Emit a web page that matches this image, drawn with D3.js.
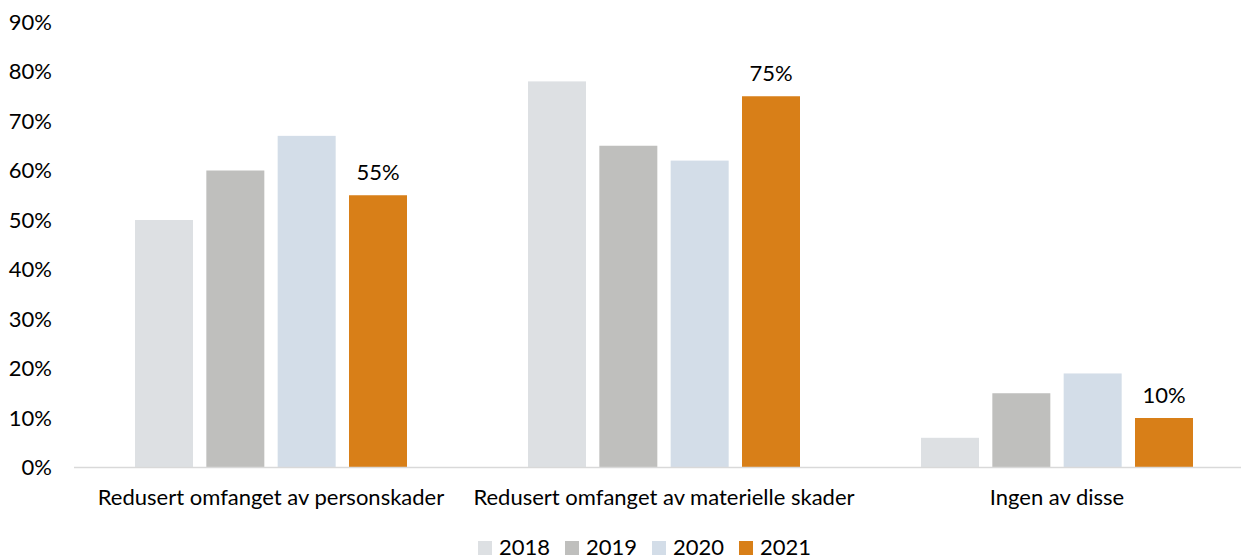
<!DOCTYPE html>
<html>
<head>
<meta charset="utf-8">
<script src="https://cdn.jsdelivr.net/npm/d3@7"></script>
<style>
  body { margin: 0; background: #ffffff; }
  svg { display: block; }
  text { font-family: Lato, "Open Sans", sans-serif; fill: #000000; }
</style>
</head>
<body>
<svg id="chart" width="1241" height="560"></svg>
<script>
// Survey answers by year (percent of respondents)
const categories = [
  "Redusert omfanget av personskader",
  "Redusert omfanget av materielle skader",
  "Ingen av disse"
];
const years = ["2018", "2019", "2020", "2021"];
const values2018 = [50, 78, 6];
const values2019 = [60, 65, 15];
const values2020 = [67, 62, 19];
const values2021 = [55, 75, 10];
const yTicks = [0, 10, 20, 30, 40, 50, 60, 70, 80, 90];
const labelledYear = "2021";

const seriesValues = { "2018": values2018, "2019": values2019, "2020": values2020, "2021": values2021 };
const colors = { "2018": "#dde0e3", "2019": "#bfbfbd", "2020": "#d3dde8", "2021": "#d87f18" };

const svg = d3.select("#chart");
const fontSize = 22;

const x0 = d3.scaleBand().domain(categories).range([74.5, 1253.5]).padding(0);
const x1 = d3.scaleBand().domain(years).range([60.5, x0.bandwidth() - 60.5]).paddingInner(0.187).paddingOuter(0);
const y = d3.scaleLinear().domain([0, 90]).range([467.5, 22]);

// y-axis tick labels (no axis line, no gridlines)
const yAxis = d3.axisLeft(y).tickValues(yTicks).tickFormat(d => d + "%").tickSize(0).tickPadding(0);
const gy = svg.append("g").attr("transform", "translate(52,0)").call(yAxis);
gy.select(".domain").remove();
gy.selectAll("text").attr("font-size", fontSize).attr("font-family", null).attr("fill", "#000");

// bars
const rows = categories.map((c, i) => ({ category: c, items: years.map(yr => ({ year: yr, value: seriesValues[yr][i] })) }));
const groups = svg.append("g").selectAll("g").data(rows).join("g")
  .attr("transform", d => `translate(${x0(d.category)},0)`);

groups.selectAll("rect").data(d => d.items).join("rect")
  .attr("x", d => x1(d.year))
  .attr("y", d => y(d.value))
  .attr("width", x1.bandwidth())
  .attr("height", d => y(0) - y(d.value))
  .attr("fill", d => colors[d.year]);

// value labels for the latest year
groups.selectAll("text.value").data(d => d.items.filter(it => it.year === labelledYear)).join("text")
  .attr("class", "value")
  .attr("x", d => x1(d.year) + x1.bandwidth() / 2)
  .attr("y", d => y(d.value) - 15)
  .attr("text-anchor", "middle")
  .attr("font-size", fontSize)
  .text(d => d.value + "%");

// baseline
svg.append("line")
  .attr("x1", 74).attr("x2", 1241)
  .attr("y1", y(0)).attr("y2", y(0))
  .attr("stroke", "#d9d9d9").attr("stroke-width", 1.5);

// category labels
const xAxis = d3.axisBottom(x0).tickSize(0).tickPadding(0);
const gx = svg.append("g").call(xAxis);
gx.select(".domain").remove();
gx.selectAll("text").attr("font-size", fontSize).attr("font-family", null).attr("fill", "#000")
  .attr("y", 505).attr("dy", null);

// legend
const lx = d3.scalePoint().domain(years).range([478, 739]);
const legend = svg.append("g").selectAll("g").data(years).join("g")
  .attr("transform", d => `translate(${lx(d)},0)`);
legend.append("rect").attr("x", 0).attr("y", 541).attr("width", 14).attr("height", 14).attr("fill", d => colors[d]);
legend.append("text").attr("x", 21).attr("y", 555).attr("font-size", fontSize).text(d => d);
</script>
</body>
</html>
